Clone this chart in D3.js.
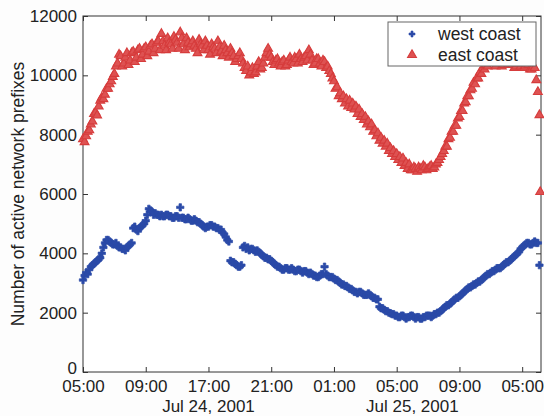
<!DOCTYPE html>
<html>
<head>
<meta charset="utf-8">
<script src="https://cdn.jsdelivr.net/npm/d3@7/dist/d3.min.js"></script>
<style>
  html, body { margin: 0; padding: 0; background: #fdfdfd; }
  svg { display: block; }
  text { font-family: "Liberation Sans", Arial, Helvetica, sans-serif; fill: #222; }
</style>
</head>
<body>
<svg id="chart" width="544" height="416"></svg>
<script>
// Active network prefixes, one reading every 6 minutes from 05:00 Jul 24, 2001
// (each row below covers one hour)
const sampleStepHours = 0.1;

const westCoast = [
  3100, 3250, 3350, 3300, 3450, 3550, 3600, 3650, 3700, 3750,
  3800, 3850, 4000, 4200, 4350, 4450, 4450, 4400, 4350, 4300,
  4300, 4350, 4250, 4200, 4200, 4150, 4150, 4100, 4200, 4250,
  4300, 4350, 4850, 4900, 4800, 4750, 4850, 4900, 4950, 5000,
  5100, 5300, 5500, 5450, 5400, 5300, 5350, 5300, 5300, 5250,
  5300, 5250, 5250, 5300, 5300, 5250, 5250, 5200, 5200, 5250,
  5250, 5200, 5550, 5200, 5200, 5150, 5150, 5200, 5150, 5100,
  5100, 5150, 5100, 5050, 5050, 5000, 4950, 4900, 4850, 4900,
  4900, 4950, 4950, 4900, 4900, 4850, 4850, 4800, 4800, 4700,
  4650, 4550, 4450, 4400, 3750, 3700, 3700, 3650, 3600, 3550,
  3550, 3600, 4200, 4250, 4150, 4200, 4100, 4150, 4150, 4100,
  4050, 4100, 4050, 4000, 3950, 3900, 3850, 3850, 3800, 3800,
  3750, 3700, 3650, 3600, 3550, 3550, 3500, 3450, 3450, 3500,
  3500, 3450, 3450, 3500, 3450, 3400, 3400, 3450, 3450, 3400,
  3350, 3400, 3400, 3350, 3300, 3350, 3300, 3250, 3250, 3200,
  3200, 3250, 3300, 3300, 3550, 3300, 3250, 3200, 3200, 3200,
  3150, 3100, 3100, 3050, 3000, 2950, 2950, 2900, 2900, 2850,
  2800, 2800, 2750, 2700, 2700, 2650, 2700, 2700, 2650, 2600,
  2600, 2600, 2650, 2600, 2550, 2500, 2500, 2450, 2450, 2200,
  2150, 2150, 2100, 2050, 2050, 2000, 1980, 1950, 1950, 1900,
  1900, 1850, 1850, 1900, 1900, 1850, 1800, 1850, 1850, 1900,
  1900, 1850, 1800, 1850, 1850, 1800, 1800, 1850, 1850, 1900,
  1900, 1900, 1850, 1900, 1950, 1950, 2000, 2000, 2050, 2100,
  2150, 2200, 2250, 2250, 2300, 2350, 2400, 2450, 2500, 2500,
  2550, 2600, 2650, 2700, 2750, 2800, 2850, 2850, 2900, 2950,
  2950, 3000, 3050, 3050, 3100, 3150, 3200, 3250, 3300, 3300,
  3350, 3400, 3400, 3450, 3500, 3500, 3500, 3550, 3600, 3650,
  3700, 3700, 3750, 3800, 3850, 3900, 3950, 4000, 4050, 4150,
  4200, 4250, 4300, 4350, 4350, 4300, 4300, 4350, 4400, 4350,
  4350, 3600
];

const eastCoast = [
  7850, 7750, 7950, 8100, 8150, 8350, 8450, 8700, 8750, 8650,
  8950, 9150, 9250, 9200, 9350, 9550, 9550, 9700, 9800, 9950,
  10050, 10300, 10400, 10700, 10650, 10300, 10400, 10600, 10750, 10350,
  10500, 10750, 10800, 10450, 10600, 10850, 10900, 10550, 10700, 10900,
  10950, 10650, 10800, 11000, 11050, 10750, 10900, 11100, 11150, 10850,
  11400, 11150, 11000, 10850, 11250, 11100, 11050, 10900, 11300, 11200,
  11100, 10900, 11450, 11250, 11050, 10850, 11250, 11100, 10950, 11050,
  11150, 11000, 10900, 10750, 11200, 11050, 11000, 10850, 11150, 11000,
  10850, 10700, 11050, 10950, 10900, 10750, 11150, 10950, 10800, 10650,
  11000, 10850, 10750, 10600, 10900, 10750, 10650, 10450, 10550, 10650,
  10750, 10550, 10400, 10250, 10150, 10300, 10000, 10100, 10250, 10050,
  10100, 10300, 10450, 10200, 10250, 10400, 10600, 10750, 10900, 10700,
  10600, 10450, 10350, 10500, 10550, 10400, 10300, 10450, 10500, 10300,
  10350, 10500, 10600, 10450, 10400, 10600, 10550, 10400, 10700, 10550,
  10450, 10600, 10650, 10500, 10850, 10700, 10500, 10350, 10400, 10550,
  10550, 10400, 10300, 10500, 10450, 10250, 10300, 10150, 10050, 9900,
  9800, 9550, 9600, 9300, 9400, 9200, 9300, 9050, 9200, 8950,
  9150, 8900, 9050, 8850, 8950, 8700, 8850, 8600, 8700, 8500,
  8600, 8350, 8450, 8250, 8350, 8100, 8150, 7950, 8050, 7800,
  7900, 7700, 7800, 7600, 7700, 7450, 7550, 7350, 7450, 7250,
  7350, 7150, 7250, 7050, 7200, 6950, 7050, 6850, 7000, 6800,
  6800, 6900, 6850, 6750, 6900, 6850, 6800, 6950, 6900, 6800,
  6850, 6900, 6950, 6850, 6900, 7000, 7050, 7150, 7250, 7350,
  7450, 7600, 7600, 7850, 7900, 8100, 8100, 8300, 8300, 8550,
  8600, 8800, 8800, 9050, 9100, 9300, 9300, 9500, 9550, 9750,
  9700, 9900, 9900, 10100, 10050, 10250, 10200, 10350, 10300, 10450,
  10450, 10550, 10400, 10300, 10550, 10600, 10450, 10300, 10350, 10450,
  10500, 10350, 10400, 10500, 10350, 10250, 10300, 10400, 10450, 10300,
  10400, 10250, 10300, 10400, 10350, 10200, 10200, 10300, 10250, 9840,
  9440, 8660
];

// Final reading of the east-coast trace: [hours since start, prefixes]
const eastTail = [[29.15, 6070]];

const xTickHours = [0, 4, 8, 12, 16, 20, 24, 28];
const xTickLabels = ["05:00", "09:00", "17:00", "21:00", "01:00", "05:00", "09:00", "05:00"];
const dateLabels = [{ hour: 8, text: "Jul 24, 2001" }, { hour: 21, text: "Jul 25, 2001" }];
const yTicks = [0, 2000, 4000, 6000, 8000, 10000, 12000];
const seriesNames = ["west coast", "east coast"];

const toPoints = (vals, tail) =>
  vals.map((v, i) => [i * sampleStepHours, v]).concat(tail);

const westPts = toPoints(westCoast, []);
const eastPts = toPoints(eastCoast, eastTail);

const margin = { left: 83, right: 3, top: 16, bottom: 44 };
const W = 544, H = 416;
const svg = d3.select("#chart");

const x = d3.scaleLinear().domain([0, 29.2]).range([margin.left, W - margin.right]);
const y = d3.scaleLinear().domain([0, 12000]).range([H - margin.bottom, margin.top]);

const blue = "#2b4aa8";
const red = "#d63c3c";
const redFill = "#de5252";
const axisColor = "#333";
const fontSize = 17;

// plot box
svg.append("rect")
  .attr("x", x.range()[0]).attr("y", y.range()[1])
  .attr("width", x.range()[1] - x.range()[0])
  .attr("height", y.range()[0] - y.range()[1])
  .attr("fill", "#fff").attr("stroke", axisColor).attr("stroke-width", 1);

// axes with inward ticks on all four sides
const tickLen = 5;
const styleAxis = g => {
  g.select(".domain").remove();
  g.selectAll(".tick line").attr("stroke", axisColor).attr("stroke-width", 1);
};

svg.append("g")
  .attr("transform", `translate(0,${y(0)})`)
  .call(d3.axisBottom(x).tickValues(xTickHours).tickSizeInner(-tickLen).tickSizeOuter(0)
    .tickPadding(8).tickFormat((d, i) => xTickLabels[i]))
  .call(styleAxis)
  .call(g => g.selectAll("text").attr("font-size", fontSize).attr("fill", "#222"));

svg.append("g")
  .attr("transform", `translate(0,${y(12000)})`)
  .call(d3.axisTop(x).tickValues(xTickHours).tickSizeInner(-tickLen).tickSizeOuter(0).tickFormat(""))
  .call(styleAxis);

svg.append("g")
  .attr("transform", `translate(${x(0)},0)`)
  .call(d3.axisLeft(y).tickValues(yTicks).tickSizeInner(-tickLen).tickSizeOuter(0)
    .tickPadding(6).tickFormat(d3.format("d")))
  .call(styleAxis)
  .call(g => g.selectAll("text").attr("font-size", fontSize).attr("fill", "#222"))
  // lift the bottom "0" a little so it clears the first time label
  .call(g => g.selectAll(".tick").filter(d => d === 0).select("text").attr("dy", "0.1em"));

svg.append("g")
  .attr("transform", `translate(${x(29.2)},0)`)
  .call(d3.axisRight(y).tickValues(yTicks).tickSizeInner(-tickLen).tickSizeOuter(0).tickFormat(""))
  .call(styleAxis);

// date labels below the time ticks
svg.append("g").selectAll("text").data(dateLabels).join("text")
  .attr("x", d => x(d.hour)).attr("y", 412)
  .attr("text-anchor", "middle").attr("font-size", fontSize)
  .text(d => d.text);

// y axis title
svg.append("text")
  .attr("transform", `translate(24,${(y(0) + y(12000)) / 2}) rotate(-90)`)
  .attr("text-anchor", "middle").attr("font-size", fontSize + 0.5)
  .text("Number of active network prefixes");

// markers
const crossPath = d3.symbol().type(d3.symbolCross).size(30)();
const triPath = d3.symbol().type(d3.symbolTriangle).size(34)();

svg.append("g").selectAll("path").data(eastPts).join("path")
  .attr("d", triPath)
  .attr("transform", d => `translate(${x(d[0])},${y(d[1])})`)
  .attr("fill", redFill).attr("stroke", red).attr("stroke-width", 1.1);

svg.append("g").selectAll("path").data(westPts).join("path")
  .attr("d", crossPath)
  .attr("transform", d => `translate(${x(d[0])},${y(d[1])})`)
  .attr("fill", blue).attr("stroke", blue).attr("stroke-width", 0.7);

// legend
const lg = svg.append("g").attr("transform", "translate(388,22)");
lg.append("rect").attr("width", 148).attr("height", 44)
  .attr("fill", "#fff").attr("stroke", "#666").attr("stroke-width", 1);
lg.append("path").attr("d", d3.symbol().type(d3.symbolCross).size(20)()).attr("transform", "translate(24,12)")
  .attr("fill", blue).attr("stroke", blue).attr("stroke-width", 0.6);
lg.append("path").attr("d", triPath).attr("transform", "translate(24,33)")
  .attr("fill", redFill).attr("stroke", red).attr("stroke-width", 1.1);
lg.selectAll("text.lab").data(seriesNames).join("text")
  .attr("class", "lab")
  .attr("x", 50).attr("y", (d, i) => 18 + i * 21)
  .attr("font-size", fontSize + 0.5)
  .text(d => d);
</script>
</body>
</html>
